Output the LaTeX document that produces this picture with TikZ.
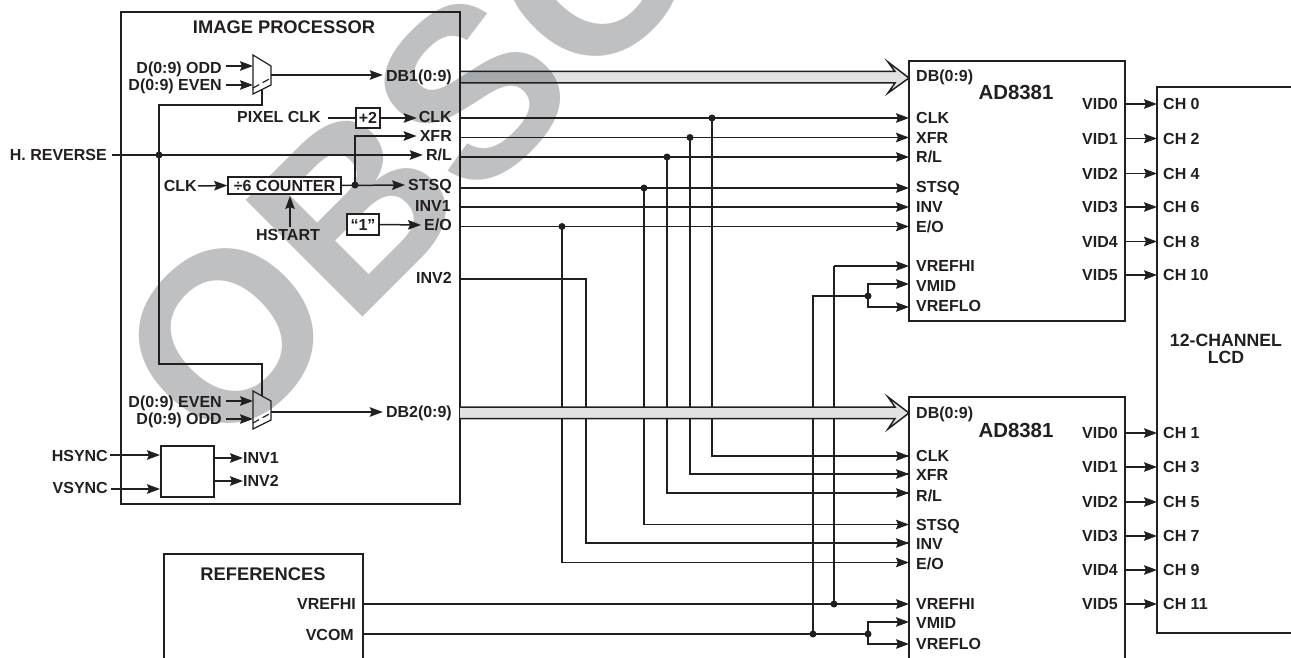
\documentclass[tikz,border=0pt]{standalone}
\usepackage{fontspec}
\setmainfont{Liberation Sans}
\usetikzlibrary{arrows.meta,calc}
\definecolor{ink}{HTML}{231F20}
\definecolor{wmark}{HTML}{BFC0C2}
\definecolor{busfill}{HTML}{E0E2E3}
\tikzset{
  x=1pt,y=-1pt,
  wire/.style={draw=ink,line width=1.5pt},
  thin wire/.style={draw=ink,line width=1.2pt},
  arr/.style={wire,-{Stealth[length=13pt,width=9.5pt,inset=2pt]}},
  lab/.style={font=\bfseries\fontsize{16}{16}\selectfont,text=ink,inner sep=0pt,text height=11.5pt,text depth=0pt},
  labw/.style={lab,anchor=west},
  labe/.style={lab,anchor=east},
  labc/.style={lab,anchor=center},
  title/.style={font=\bfseries\fontsize{18.3}{18.3}\selectfont,text=ink,inner sep=0pt,text height=13pt,text depth=0pt,anchor=center},
  chip/.style={font=\bfseries\fontsize{20.4}{20.4}\selectfont,text=ink,inner sep=0pt,text height=14.6pt,text depth=0pt,anchor=center},
  jn/.style={circle,fill=ink,draw=none,inner sep=0pt,minimum size=7pt},
  box/.style={draw=ink,line width=1.5pt,inner sep=0pt,anchor=center,fill=white},
  pin/.style={coordinate},
}
\begin{document}
\begin{tikzpicture}
\path[use as bounding box] (0,0) rectangle (1291,658);
\begin{scope}
\clip (0,0) rectangle (1291,658);
\node[rotate=45,anchor=base west,inner sep=0pt,text=wmark,font=\bfseries\fontsize{240}{240}\selectfont] (wm) at (219,461) {OBSO};

% ---- main boxes
\draw[wire] (121,12) rectangle (460,504);
\coordinate (ipb) at (121,12);
\draw[wire] (909,61) rectangle (1125,321);
\draw[wire] (909,658) -- (909,397) -- (1125,397) -- (1125,658);
\draw[wire] (1291,87) -- (1157,87) -- (1157,633) -- (1291,633);
\draw[wire] (164,658) -- (164,554) -- (363,554) -- (363,658);

% ---- junctions
\node[jn] (jsel) at (159,155) {};
\node[jn] (jcnt) at (355,185) {};
\node[jn] (jclk) at (712,118) {};
\node[jn] (jxfr) at (690,137.5) {};
\node[jn] (jrl) at (667,157) {};
\node[jn] (jst) at (644,188) {};
\node[jn] (jeo) at (562,226.5) {};
\node[jn] (jhi) at (834,604) {};
\node[jn] (jcom) at (813,634) {};
\node[jn] (jm1) at (868,296) {};
\node[jn] (jm2) at (868,634) {};

% ---- pins on the left side of the upper chip
\foreach \n/\y in {clk/118,xfr/137.5,rl/157,st/188,inv/207,eo/226.5,hi/266,mid/284,lo/307}
  \coordinate (a\n) at (909,\y);
\foreach \n/\y in {clk/456,xfr/474,rl/493,st/524.5,inv/543,eo/562.5,hi/604,mid/622,lo/644}
  \coordinate (b\n) at (909,\y);

% ---- signals between processor and chips
\foreach \n/\y in {clk/118,xfr/137.5,rl/157,st/188,inv/207,eo/226.5}
  \draw[arr] (460,\y) -- (a\n);
\draw[wire] (jclk.center) |- (bclk);
\draw[wire] (jxfr.center) |- (bxfr);
\draw[wire] (jrl.center) |- (brl);
\draw[wire] (jst.center) |- (bst);
\draw[wire] (jeo.center) |- (beo);
\draw[wire] (460,279) -| (586,543) -- (binv);
\foreach \n in {clk,xfr,rl,st,inv,eo}
  \draw[arr] ($(b\n)+(-30,0)$) -- (b\n);

% ---- references
\draw[arr] (363,604) -- (bhi);
\draw[wire] (363,634) -- (jm2.center);
\draw[wire] (jhi.center) -- (834,266);
\draw[arr] (834,266) -- (ahi);
\draw[wire] (jcom.center) -- (813,296) -- (jm1.center);
\draw[arr] (jm1.center) |- (amid);
\draw[arr] (jm1.center) |- (alo);
\draw[arr] (jm2.center) |- (bmid);
\draw[arr] (jm2.center) |- (blo);

% ---- buses
\begin{scope}[blend mode=multiply]
\fill[busfill] (460,71.5) -- (895,71.5) -- (888,62) -- (909,78) -- (888,93) -- (895,83) -- (460,83) -- cycle;
\end{scope}
\draw[wire] (460,71.5) -- (895,71.5) -- (888,62) -- (909,78) -- (888,93) -- (895,83) -- (460,83);
\fill[busfill] (460,407) -- (895,407) -- (888,397) -- (909,413) -- (888,429) -- (895,418.5) -- (460,418.5) -- cycle;
\draw[wire] (460,407) -- (895,407) -- (888,397) -- (909,413) -- (888,429) -- (895,418.5) -- (460,418.5);

% ---- multiplexers
\coordinate (m1a) at (253,55); \coordinate (m1b) at (271,66); \coordinate (m1c) at (271,85); \coordinate (m1d) at (253,94);
\coordinate (m2a) at (253,391); \coordinate (m2b) at (271,401); \coordinate (m2c) at (271,420); \coordinate (m2d) at (253,429);
\draw[thin wire] (262,90) -- (262,105) -- (159,105) -- (jsel.center) -- (159,364) -- (262,364) -- (262,396);
\draw[thin wire,fill=white] (m1a) -- (m1b) -- (m1c) -- (m1d) -- cycle;
\draw[thin wire,dash pattern=on 7pt off 4pt] (253,88) -- (271,78);
\fill[white] (253,423) -- (271,413) -- (m2c) -- (m2d) -- cycle;
\draw[thin wire] (m2a) -- (m2b) -- (m2c) -- (m2d) -- cycle;
\draw[thin wire,dash pattern=on 7pt off 4pt] (253,423) -- (271,413);

% ---- inside the image processor
\node[title] (tip) at (284,27.5) {IMAGE PROCESSOR};
\node[labe] (lodd) at (222,68) {D(0:9) ODD};
\node[labe] (leven) at (222,85) {D(0:9) EVEN};
\draw[arr] ($(lodd.east)+(4,-2)$) -- (253,66);
\draw[arr] ($(leven.east)+(4,0)$) -- (253,85);
\node[labe] (ldb1) at (452,76) {DB1(0:9)};
\draw[arr] (m1b |- 0,75) -- ($(ldb1.west)+(-3,-1)$);

\node[labe] (lpix) at (321,117) {PIXEL CLK};
\node[box,minimum width=24pt,minimum height=20pt,lab,anchor=center] (bdiv) at (368,118) {+2};
\draw[thin wire] ($(lpix.east)+(7,1)$) -- (bdiv.west);
\node[labe] (lclk) at (452,117) {CLK};
\draw[arr] (bdiv.east) -- ($(lclk.west)+(-2,1)$);

\node[labe] (lxfr) at (452,136) {XFR};
\node[labe] (lrl) at (452,155) {R/L};
\node[labe] (lst) at (452,185) {STSQ};
\node[labe] (linv1) at (451,206) {INV1};
\node[labe] (leo) at (452,225) {E/O};
\node[labe] (linv2) at (452,278) {INV2};
\draw[arr] (jcnt.center) -- (355,136) -- ($(lxfr.west)+(-3,0)$);
\node[labe] (lhr) at (107,155) {H. REVERSE};
\draw[arr] ($(lhr.east)+(5,0)$) -- (jsel.center) -- ($(lrl.west)+(-3,0)$);

\node[box,minimum width=113pt,minimum height=17pt,lab,anchor=center] (bcnt) at (284.5,185.5) {÷6 COUNTER};
\node[labe] (lcclk) at (197,186) {CLK};
\draw[arr] ($(lcclk.east)+(1,0)$) -- (bcnt.west);
\draw[arr] (bcnt.east) -- ($(lst.west)+(-3,0)$);
\node[labc] (lhs) at (288,235) {HSTART};
\draw[arr] (290,227) -- (290,196);
\node[box,minimum width=32pt,minimum height=21pt,lab,anchor=center] (bone) at (363,224.5) {“1”};
\draw[arr] (bone.east) -- ($(leo.west)+(-3,0)$);

\node[labe] (leven2) at (222,402) {D(0:9) EVEN};
\node[labe] (lodd2) at (222,419) {D(0:9) ODD};
\draw[arr] ($(leven2.east)+(4,-1)$) -- (253,401);
\draw[arr] ($(lodd2.east)+(4,0)$) -- (253,419);
\node[labe] (ldb2) at (452,412) {DB2(0:9)};
\draw[arr] (271,412) -- ($(ldb2.west)+(-3,0)$);

\node[draw=ink,line width=1.2pt,fill=white,inner sep=0pt,minimum width=53pt,minimum height=51pt] (bsync) at (187.5,471.5) {};
\node[labe] (lhsync) at (108,456) {HSYNC};
\node[labe] (lvsync) at (108,488) {VSYNC};
\draw[arr] ($(lhsync.east)+(2,-1)$) -- (160,455);
\draw[arr] ($(lvsync.east)+(3,1)$) -- (160,489);
\node[labw] (linva) at (243,458) {INV1};
\node[labw] (linvb) at (243,481) {INV2};
\draw[arr] (214,458) -- (linva.west);
\draw[arr] (214,481) -- (linvb.west);

% ---- references block
\node[title] (tref) at (263,574) {REFERENCES};
\node[labe] (lvh) at (356,604) {VREFHI};
\node[labe] (lvc) at (354,635) {VCOM};

% ---- upper chip labels
\node[labw] (u1) at (916,76) {DB(0:9)};
\node[chip] (ua) at (1016,92) {AD8381};
\foreach \t/\y in {CLK/118,XFR/138,R\slash L/157,STSQ/187,INV/207,E\slash O/227,VREFHI/266,VMID/286,VREFLO/306}
  \node[labw] at (916,\y) {\t};
\foreach \i/\c/\y in {0/CH 0/104,1/CH 2/138.5,2/CH 4/173.5,3/CH 6/207,4/CH 8/241.5,5/CH 10/275}{
  \node[labe] (uv\i) at (1118,\y) {VID\i};
  \node[labw] (uc\i) at (1163,\y) {\c};
  \draw[arr] (1125,\y) -- (1157,\y);
}
% ---- lower chip labels
\node[labw] (l1) at (916,413) {DB(0:9)};
\node[chip] (la) at (1016,430) {AD8381};
\foreach \t/\y in {CLK/456,XFR/475,R\slash L/496,STSQ/525,INV/544,E\slash O/564,VREFHI/604,VMID/623,VREFLO/644}
  \node[labw] at (916,\y) {\t};
\foreach \i/\c/\y in {0/CH 1/433,1/CH 3/467,2/CH 5/502,3/CH 7/536,4/CH 9/570,5/CH 11/604}{
  \node[labe] (lv\i) at (1118,\y) {VID\i};
  \node[labw] (lc\i) at (1163,\y) {\c};
  \draw[arr] (1125,\y) -- (1157,\y);
}
% ---- LCD
\node[anchor=center,align=center,inner sep=0pt,text=ink,font=\bfseries\fontsize{17.7}{17}\selectfont] (lcd) at (1226,349) {12-CHANNEL\\LCD};
\end{scope}
\end{tikzpicture}
\end{document}
